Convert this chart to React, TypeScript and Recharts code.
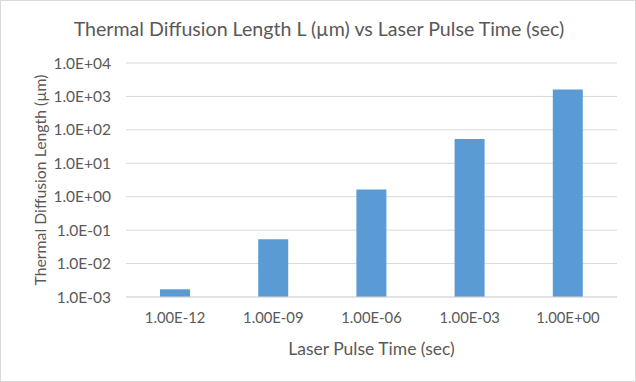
import { BarChart, Bar, XAxis, YAxis, CartesianGrid } from "recharts";

const pulseTimes = ["1.00E-12", "1.00E-09", "1.00E-06", "1.00E-03", "1.00E+00"];
const diffusionLengths = [0.0017, 0.053, 1.65, 53, 1600];
const yTicks = [0.001, 0.01, 0.1, 1, 10, 100, 1000, 10000];

const data = pulseTimes.map((t, i) => ({ time: t, length: diffusionLengths[i] }));

const FONT = "Lato, 'Open Sans', sans-serif";
const TEXT = "#595959";

// Excel-style "1.0E+04"
function sci(v: number) {
  const exp = Math.round(Math.log10(v));
  const mant = v / Math.pow(10, exp);
  const sign = exp < 0 ? "-" : "+";
  const e = String(Math.abs(exp)).padStart(2, "0");
  return `${mant.toFixed(1)}E${sign}${e}`;
}

export default function App() {
  return (
    <div
      style={{
        position: "absolute",
        left: 0,
        top: 0,
        width: 636,
        height: 382,
        boxSizing: "border-box",
        border: "1px solid #d9d9d9",
        background: "#fff",
        fontFamily: FONT,
      }}
    >
      <div
        style={{
          position: "absolute",
          top: 16,
          left: 0,
          width: 636,
          textAlign: "center",
          fontSize: 19.6,
          color: TEXT,
        }}
      >
        Thermal Diffusion Length L (µm) vs Laser Pulse Time (sec)
      </div>
      <BarChart
        width={634}
        height={380}
        data={data}
        margin={{ top: 62, right: 18, left: 0, bottom: 22 }}
        style={{ position: "absolute", left: 0, top: 0 }}
      >
        <CartesianGrid vertical={false} stroke="#d9d9d9" />
        <XAxis
          dataKey="time"
          height={62}
          tickLine={false}
          tickSize={0}
          tickMargin={15}
          axisLine={{ stroke: "#d9d9d9" }}
          tick={{ fontSize: 14.8, fill: TEXT, fontFamily: FONT }}
          label={{
            value: "Laser Pulse Time (sec)",
            position: "insideBottom",
            offset: 4,
            fill: TEXT,
            fontSize: 17.5,
            fontFamily: FONT,
          }}
        />
        <YAxis
          scale="log"
          domain={[0.001, 10000]}
          ticks={yTicks}
          allowDataOverflow
          width={125}
          axisLine={false}
          tickLine={false}
          tickSize={0}
          tickMargin={15}
          tickFormatter={sci}
          tick={{ fontSize: 15.5, fill: TEXT, fontFamily: FONT }}
          label={{
            value: "Thermal Diffusion Length (µm)",
            angle: -90,
            position: "insideLeft",
            offset: 39,
            fill: TEXT,
            fontSize: 15.8,
            fontFamily: FONT,
            style: { textAnchor: "middle" },
          }}
        />
        <Bar dataKey="length" fill="#5b9bd5" barSize={30} isAnimationActive={false} />
      </BarChart>
    </div>
  );
}
